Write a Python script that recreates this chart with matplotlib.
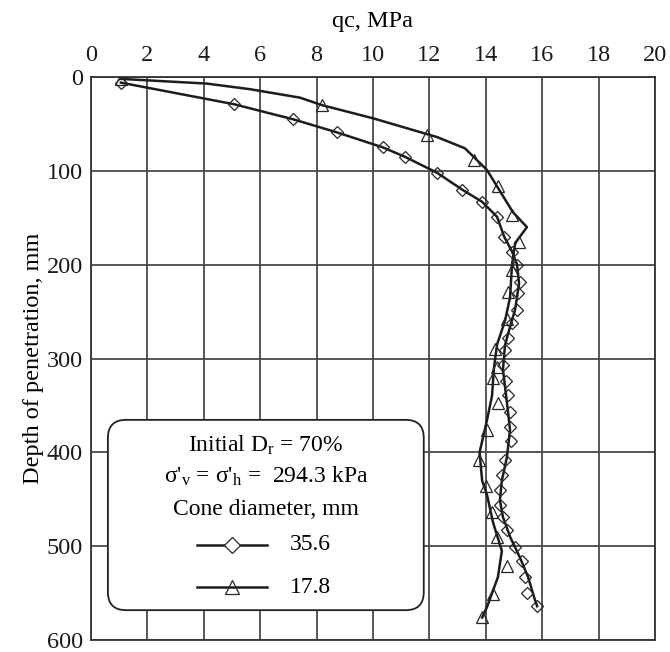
import matplotlib
matplotlib.use('Agg')
import matplotlib.pyplot as plt
from matplotlib.patches import FancyBboxPatch

plt.rcParams['font.family'] = ['Liberation Serif', 'DejaVu Serif']
plt.rcParams['mathtext.fontset'] = 'custom'
plt.rcParams['mathtext.rm'] = 'Liberation Serif'
plt.rcParams['mathtext.it'] = 'Liberation Serif:italic'

# Cone 35.6 mm: measured points (diamonds)
d356_qc = [1.06, 5.07, 7.16, 8.72, 10.35, 11.13, 12.27, 13.16, 13.87, 14.40,
           14.65, 14.93, 15.11, 15.21, 15.14, 15.11, 14.93, 14.79, 14.68, 14.61,
           14.72, 14.79, 14.86, 14.86, 14.89, 14.68, 14.57, 14.50, 14.50, 14.61,
           14.75, 15.04, 15.28, 15.39, 15.46, 15.82]
d356_z = [6, 29, 45, 59, 75, 85, 102, 120, 133, 149,
          170, 186, 200, 219, 230, 248, 262, 278, 291, 307,
          324, 339, 357, 373, 388, 408, 424, 440, 456, 469,
          483, 501, 516, 533, 550, 564]

# Cone 35.6 mm: trend line
d356_line_qc = [1.06, 5.07, 7.16, 8.72, 10.35, 11.13, 12.27, 13.16, 13.87, 14.40,
                14.65, 14.93, 15.11, 15.18, 15.04, 14.86, 14.68, 14.61, 14.75, 14.86,
                14.75, 14.57, 14.50, 14.61, 14.86, 15.21, 15.50, 15.74, 15.82]
d356_line_z = [6, 29, 45, 59, 75, 85, 102, 120, 133, 149,
               170, 186, 200, 220, 248, 266, 286, 312, 347, 376,
               405, 430, 451, 469, 490, 512, 533, 557, 564]

# Cone 17.8 mm: measured points (triangles)
d178_qc = [1.06, 8.19, 11.91, 13.58, 14.43, 14.93, 15.18, 14.93, 14.79, 14.75,
           14.33, 14.40, 14.26, 14.43, 14.04, 13.76, 14.01, 14.22, 14.40, 14.75,
           14.26, 13.87]
d178_z = [2, 30, 62, 88, 116, 147, 176, 206, 229, 258,
          290, 309, 321, 347, 376, 408, 436, 464, 490, 521,
          551, 576]

# Cone 17.8 mm: trend line
d178_line_qc = [1.06, 4.10, 5.64, 7.41, 8.19, 10.00, 12.27, 13.26, 14.04, 14.96,
                15.46, 15.04, 14.93, 14.86, 14.68, 14.40, 14.29, 14.22, 14.04, 13.78,
                13.87, 14.04, 14.26, 14.57, 14.43, 14.04, 13.87]
d178_line_z = [2, 7, 13, 22, 30, 44, 64, 76, 99, 144,
               160, 177, 200, 235, 260, 285, 310, 340, 366, 400,
               430, 445, 475, 505, 533, 565, 576]

x_ticks = list(range(0, 21, 2))
y_ticks = list(range(0, 601, 100))

fig = plt.figure(figsize=(6.7, 6.52), dpi=100)
ax = fig.add_axes([0.1358, 0.0184, 0.8418, 0.8635])

ink = '#1c1c1c'
ax.plot(d356_line_qc, d356_line_z, color=ink, lw=1.8, zorder=3)
ax.plot(d356_qc, d356_z, ls='none', marker='D', ms=6.5, mfc='none',
        mec='#262626', mew=0.9, zorder=4)
ax.plot(d178_line_qc, d178_line_z, color=ink, lw=1.8, zorder=3)
ax.plot(d178_qc, d178_z, ls='none', marker='^', ms=8.5, mfc='none',
        mec='#262626', mew=0.9, zorder=4)

ax.set_xlim(0, 20)
ax.set_ylim(600, 0)
ax.set_xticks(x_ticks)
ax.set_yticks(y_ticks)
ax.xaxis.tick_top()
ax.xaxis.set_label_position('top')
ax.tick_params(length=0, labelsize=17.5, colors='#1a1a1a')
ax.tick_params(axis='x', pad=8)
ax.tick_params(axis='y', pad=6)
ax.grid(color='#4a4a4a', lw=1.3)
ax.set_axisbelow(True)
for s in ax.spines.values():
    s.set_color('#333333')
    s.set_linewidth(1.3)

ax.set_xlabel('qc, MPa', fontsize=17.5)
ax.xaxis.set_label_coords(0.5, 1.099)
ax.xaxis.label.set_va('center')
ax.set_ylabel('Depth of penetration, mm', fontsize=17.5, labelpad=2)

# legend panel
box = FancyBboxPatch((0.030, 0.053), 0.560, 0.338,
                     boxstyle='round,pad=0,rounding_size=0.032',
                     transform=ax.transAxes, facecolor='white',
                     edgecolor='#222222', lw=1.3, zorder=5)
ax.add_patch(box)

cx = 0.31
ax.text(cx, 0.346, 'Initial D$_\\mathrm{r}$ = 70%', transform=ax.transAxes,
        ha='center', va='center', fontsize=17, zorder=6)
ax.text(cx, 0.290, "σ'$_\\mathrm{v}$ = σ'$_\\mathrm{h}$ =  294.3 kPa",
        transform=ax.transAxes, ha='center', va='center', fontsize=17, zorder=6)
ax.text(cx, 0.231, 'Cone diameter, mm', transform=ax.transAxes,
        ha='center', va='center', fontsize=17, zorder=6)

ax.plot([0.188, 0.250, 0.312], [0.169] * 3, transform=ax.transAxes,
        color=ink, lw=1.8, marker='D', markevery=[1], ms=8, mfc='white',
        mec='#262626', mew=0.9, zorder=6)
ax.text(0.353, 0.169, '35.6', transform=ax.transAxes, ha='left',
        va='center', fontsize=17, zorder=6)
ax.plot([0.188, 0.250, 0.312], [0.094] * 3, transform=ax.transAxes,
        color=ink, lw=1.8, marker='^', markevery=[1], ms=10, mfc='none',
        mec='#262626', mew=0.9, zorder=6)
ax.text(0.353, 0.094, '17.8', transform=ax.transAxes, ha='left',
        va='center', fontsize=17, zorder=6)

fig.savefig('out.png', dpi=100)
